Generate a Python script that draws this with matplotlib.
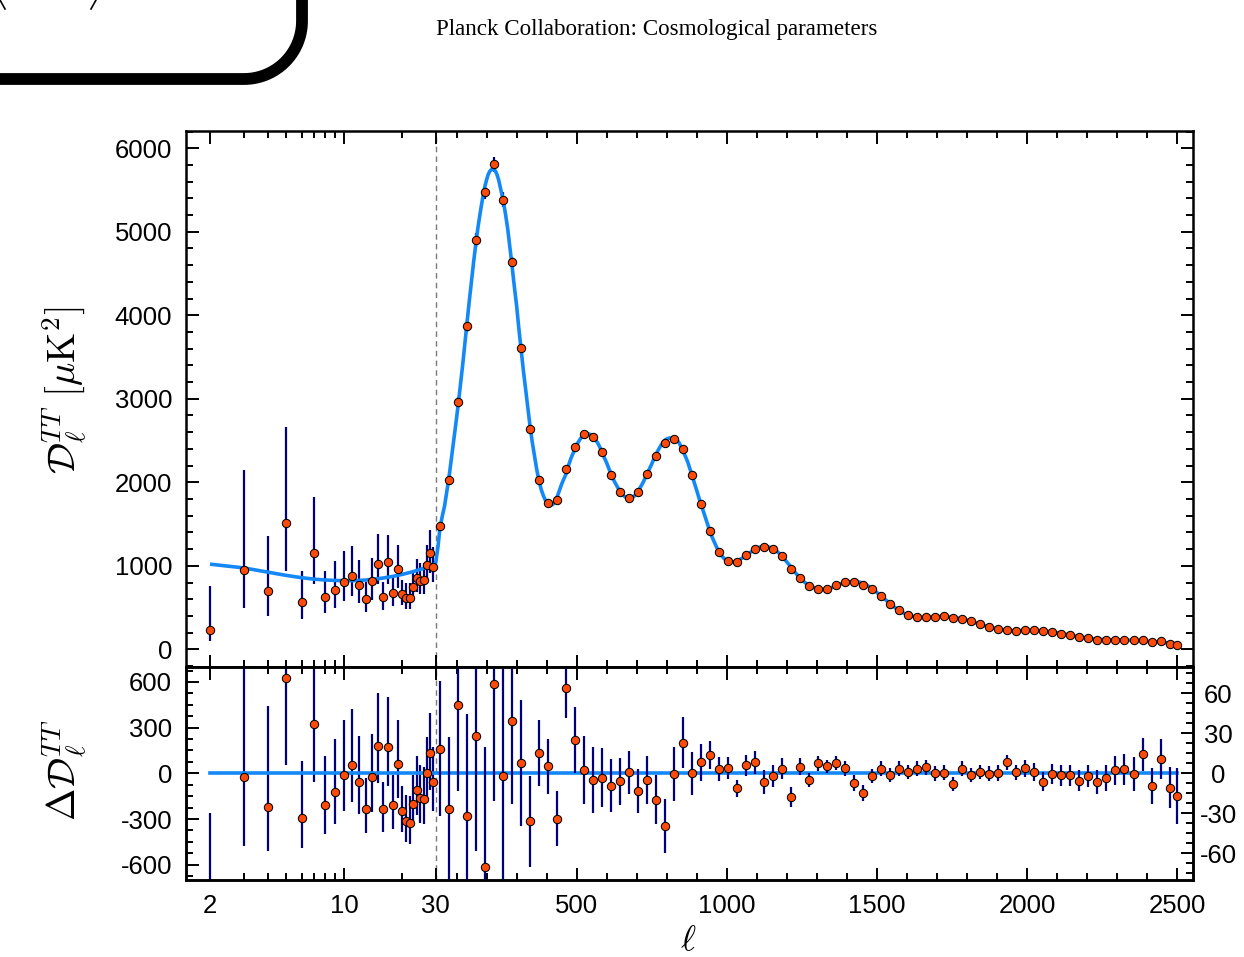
import numpy as np
import matplotlib
matplotlib.use("Agg")
import matplotlib.pyplot as plt
from matplotlib.ticker import FixedLocator, MultipleLocator, NullFormatter, FixedFormatter
from matplotlib.transforms import Affine2D
from matplotlib.lines import Line2D

plt.rcParams['mathtext.fontset'] = 'cm'
plt.rcParams['font.family'] = ['Liberation Sans', 'DejaVu Sans']

# ---------------- data ----------------
# low-ell (unbinned) points
ell_low = [2, 3, 4, 5, 6, 7, 8, 9, 10, 11, 12, 13, 14, 15, 16, 17, 18, 19, 20,
           21, 22, 23, 24, 25, 26, 27, 28, 29]
D_low = [234, 945, 699, 1508, 563, 1159, 621, 707, 810, 875, 768, 604, 814, 1027,
         625, 1040, 678, 958, 666, 617, 617, 752, 851, 822, 830, 1007, 1159, 986]
err_lo_low = [131, 452, 294, 572, 200, 380, 190, 215, 236, 242, 210, 158, 225, 240,
              150, 255, 160, 220, 140, 133, 140, 150, 165, 165, 165, 195, 240, 185]
err_hi_low = [526, 1205, 660, 1150, 375, 662, 320, 345, 364, 368, 305, 200, 285, 350,
              180, 330, 195, 290, 160, 175, 175, 185, 225, 215, 205, 240, 268, 234]
res_low = [-785, -26, -218, 628, -292, 323, -207, -120, -13, 52, -59, -231, -26, 179,
           -235, 170, -205, 61, -244, -316, -325, -198, -109, -161, -166, 0, 131, -59]

# high-ell binned points (bin width 30)
ell_high = [44.5, 74.5, 104.5, 134.5, 164.5, 194.5, 224.5, 254.5, 284.5, 314.5,
            344.5, 374.5, 404.5, 434.5, 464.5, 494.5, 524.5, 554.5, 584.5, 614.5,
            644.5, 674.5, 704.5, 734.5, 764.5, 794.5, 824.5, 854.5, 884.5, 914.5,
            944.5, 974.5, 1004.5, 1034.5, 1064.5, 1094.5, 1124.5, 1154.5, 1184.5, 1214.5,
            1244.5, 1274.5, 1304.5, 1334.5, 1364.5, 1394.5, 1424.5, 1454.5, 1484.5, 1514.5,
            1544.5, 1574.5, 1604.5, 1634.5, 1664.5, 1694.5, 1724.5, 1754.5, 1784.5, 1814.5,
            1844.5, 1874.5, 1904.5, 1934.5, 1964.5, 1994.5, 2024.5, 2054.5, 2084.5, 2114.5,
            2144.5, 2174.5, 2204.5, 2234.5, 2264.5, 2294.5, 2324.5, 2354.5, 2384.5, 2414.5,
            2444.5, 2474.5, 2499]
D_high = [1477, 2030, 2958, 3875, 4898, 5477, 5808, 5385, 4635, 3608,
          2638, 2030, 1752, 1788, 2163, 2423, 2575, 2547, 2359, 2091,
          1884, 1812, 1884, 2096, 2315, 2467, 2522, 2395, 2084, 1740,
          1417, 1169, 1057, 1045, 1129, 1205, 1229, 1201, 1117, 966,
          858, 758, 726, 726, 770, 802, 806, 776, 722, 638,
          543, 467, 411, 387, 387, 391, 395, 375, 367, 335,
          299, 267, 243, 235, 223, 231, 227, 216, 207, 187,
          168, 144, 132, 115, 111, 115, 111, 108, 115, 84,
          96, 63, 51]
err_high = [50.5, 54.4, 64.8, 76.5, 86.4, 90.2, 87.2, 90.0, 62.3, 47.0,
            34.0, 24.6, 20.8, 20.4, 22.9, 24.6, 25.5, 24.8, 22.4, 19.9,
            17.5, 16.4, 16.5, 18.0, 18.3, 20.3, 20.2, 18.9, 16.1, 13.7,
            10.6, 9.0, 8.3, 6.5, 8.0, 8.7, 9.0, 8.3, 8.0, 7.5,
            6.6, 5.6, 5.6, 5.0, 5.4, 5.4, 6.2, 6.2, 5.4, 5.4,
            5.4, 5.4, 5.4, 5.4, 5.4, 5.4, 5.4, 5.4, 5.4, 5.4,
            5.4, 5.9, 5.9, 5.9, 5.9, 6.2, 6.7, 6.9, 7.4, 7.7,
            7.9, 8.2, 8.6, 9.1, 9.6, 10.6, 11.6, 12.6, 12.4, 13.6,
            14.8, 15.3, 21.0]
res_high = [18.6, -27.1, 51.2, -32.3, 28.3, -70.3, 66.8, -1.7, 39.5, 7.7,
            -36.0, 15.2, 5.2, -34.0, 64.1, 24.8, 2.2, -5.2, -3.2, -9.2,
            -6.0, 0.7, -13.2, -5.0, -19.9, -39.2, -0.5, 23.1, 0.2, 8.2,
            13.9, 3.2, 4.0, -11.2, 6.0, 8.2, -6.7, -2.2, 3.5, -17.6,
            5.0, -5.0, 7.5, 5.2, 7.9, 3.7, -7.4, -14.6, -2.0, 3.5,
            -1.2, 3.5, 1.0, 3.5, 4.4, 0.0, 0.5, -8.2, 3.5, -1.2,
            1.0, -0.2, 0.0, 8.2, 0.7, 3.7, 1.0, -6.2, -0.7, -1.5,
            -1.5, -5.4, -2.0, -6.4, -3.7, 2.2, 3.2, -0.5, 14.3, -9.4,
            10.6, -10.9, -17.3]

# best-fit model curve
ell_model = [2, 3, 4, 5, 6, 7, 8, 9, 10, 11, 12, 13, 14, 15, 16, 17, 18, 19, 20,
             21, 22, 23, 24, 25, 26, 27, 28, 29, 30,
             38, 44.5, 52, 60, 67, 74.5, 82, 90, 97, 104.5, 112, 120, 127, 134.5, 142, 150,
             157, 164.5, 172, 180, 187, 194.5, 200, 205, 210, 215, 220, 225, 230, 235,
             240, 247, 254.5, 262, 270, 277, 284.5, 292, 300, 307, 314.5, 322, 330, 337,
             344.5, 352, 360, 367, 374.5, 382, 390, 397, 404.5, 412, 420, 427, 434.5,
             442, 450, 457, 464.5, 472, 480, 487, 494.5, 502, 510, 517, 524.5, 532, 540,
             547, 554.5, 562, 570, 577, 584.5, 592, 600, 607, 614.5, 622, 630, 637,
             644.5, 652, 660, 667, 674.5, 682, 690, 697, 704.5, 712, 720, 727, 734.5,
             742, 750, 757, 764.5, 772, 780, 787, 794.5, 802, 810, 817, 824.5, 832, 840,
             847, 854.5, 862, 870, 877, 884.5, 892, 900, 907, 914.5, 922, 930, 937,
             944.5, 952, 960, 967, 974.5, 982, 990, 997, 1004.5, 1020, 1034.5, 1050,
             1064.5, 1080, 1094.5, 1110, 1124.5, 1140, 1154.5, 1170, 1184.5, 1200, 1214.5,
             1230, 1244.5, 1260, 1274.5, 1290, 1304.5, 1320, 1334.5, 1350, 1364.5, 1380,
             1394.5, 1410, 1424.5, 1440, 1454.5, 1470, 1484.5, 1500, 1514.5, 1530, 1544.5,
             1560, 1574.5, 1590, 1604.5, 1620, 1634.5, 1664.5, 1694.5, 1724.5, 1754.5,
             1784.5, 1814.5, 1844.5, 1874.5, 1904.5, 1934.5, 1964.5, 1994.5, 2024.5,
             2054.5, 2084.5, 2114.5, 2144.5, 2174.5, 2204.5, 2234.5, 2264.5, 2294.5,
             2324.5, 2354.5, 2384.5, 2414.5, 2444.5, 2474.5, 2499, 2508]
D_model = [1020, 975, 925, 885, 858, 840, 830, 825, 822, 822, 825, 830, 837, 845, 854,
           864, 874, 885, 896, 908, 920, 932, 945, 958, 971, 985, 999, 1013, 1028,
           1230, 1458, 1590, 1720, 1880, 2057, 2265, 2480, 2690, 2907, 3150, 3400, 3650,
           3907, 4165, 4420, 4650, 4870, 5075, 5260, 5410, 5547, 5625, 5685, 5722, 5743,
           5750, 5745, 5722, 5680, 5620, 5510, 5387, 5230, 5040, 4830, 4596, 4350, 4110,
           3850, 3600, 3350, 3110, 2890, 2674, 2480, 2300, 2150, 2015, 1910, 1830, 1775,
           1747, 1730, 1733, 1765, 1822, 1900, 1980, 2040, 2099, 2195, 2280, 2340, 2398,
           2460, 2510, 2545, 2573, 2582, 2580, 2570, 2552, 2515, 2470, 2420, 2362, 2295,
           2230, 2165, 2100, 2035, 1980, 1935, 1890, 1855, 1830, 1815, 1811, 1815, 1830,
           1860, 1897, 1940, 1990, 2045, 2101, 2160, 2220, 2280, 2335, 2390, 2440, 2475,
           2506, 2523, 2530, 2530, 2522, 2505, 2480, 2430, 2372, 2310, 2240, 2162, 2084,
           1990, 1900, 1815, 1732, 1645, 1560, 1480, 1403, 1335, 1270, 1215, 1166, 1125,
           1090, 1068, 1053, 1045, 1056, 1090, 1123, 1165, 1197, 1225, 1236, 1225, 1203,
           1165, 1113, 1045, 984, 910, 853, 800, 763, 740, 718, 718, 721, 740, 762, 785,
           798, 808, 813, 806, 791, 760, 724, 680, 634, 590, 544, 500, 463, 432, 410, 395,
           384, 383, 391, 394, 383, 363, 336, 298, 267, 243, 227, 222, 227, 226, 222, 208,
           189, 170, 149, 134, 121, 115, 113, 108, 109, 101, 93, 85, 74, 68, 65]

xticks_major = [2, 10, 30, 500, 1000, 1500, 2000, 2500]
xticks_minor = [3, 4, 5, 6, 7, 8, 9, 20] + [v for v in range(100, 2500, 100) if v % 500 != 0]
yticks_res_left = [-600, -300, 0, 300, 600]
yticks_res_right = [-60, -30, 0, 30, 60]

# ---------------- scale: log below 30, linear above ----------------
def fwd(l):
    l = np.asarray(l, dtype=float)
    with np.errstate(divide='ignore', invalid='ignore'):
        lg = 191.7 * np.log10(np.maximum(l, 1e-9) / 30.0)
    return np.where(l < 30, lg, 0.3 * (l - 30))

def inv(u):
    u = np.asarray(u, dtype=float)
    with np.errstate(over='ignore', invalid='ignore'):
        lg = 30 * 10 ** (np.minimum(u, 0) / 191.7)
    return np.where(u < 0, lg, u / 0.3 + 30)

W, H = 1244, 957
fig = plt.figure(figsize=(W / 100, H / 100), dpi=100)

def px_axes(x0, y0, x1, y1):
    return [x0 / W, 1 - y1 / H, (x1 - x0) / W, (y1 - y0) / H]

ax1 = fig.add_axes(px_axes(186, 130.7, 1192.5, 666.7))
ax2 = fig.add_axes(px_axes(186, 666.7, 1192.5, 880), sharex=ax1)
ax1.set_xscale('function', functions=(fwd, inv))
ax1.set_xlim(1.5, 2551)
ax2r = ax2.twinx()

blue = '#1488F7'
navy = '#00007F'
orange = '#FF4A0A'

# top panel
ax1.plot(ell_model, D_model, color=blue, lw=2.6, zorder=3, solid_capstyle='butt')
ax1.errorbar(ell_low, D_low, yerr=[err_lo_low, err_hi_low], fmt='none', ecolor=navy,
             elinewidth=1.6, zorder=2)
ax1.errorbar(ell_high, D_high, yerr=err_high, fmt='none', ecolor=navy,
             elinewidth=1.6, zorder=2)
mk = dict(ls='none', marker='o', ms=6.0, mfc=orange, mec='black', mew=0.75, zorder=4)
ax1.plot(ell_low, D_low, **mk)
ax1.plot(ell_high, D_high, **mk)
ax1.axvline(30, color='#7a7a7a', lw=1.0, ls=(0, (4, 3)), zorder=1)
ax1.set_ylim(-208, 6210)

# bottom panel
ax2.plot([2, 2500], [0, 0], color=blue, lw=2.6, zorder=3)
ax2.errorbar(ell_low, res_low, yerr=[err_lo_low, err_hi_low], fmt='none', ecolor=navy,
             elinewidth=1.6, zorder=2)
ax2.plot(ell_low, res_low, **mk)
ax2.axvline(30, color='#7a7a7a', lw=1.0, ls=(0, (4, 3)), zorder=1)
ax2.set_ylim(-700, 700)
ax2r.errorbar(ell_high, res_high, yerr=err_high, fmt='none', ecolor=navy,
              elinewidth=1.6, zorder=2)
ax2r.plot(ell_high, res_high, **mk)
ax2r.set_ylim(-80, 80)

# ticks
for ax in (ax1, ax2):
    ax.xaxis.set_major_locator(FixedLocator(xticks_major))
    ax.xaxis.set_minor_locator(FixedLocator(xticks_minor))
    ax.xaxis.set_minor_formatter(NullFormatter())
ax2.xaxis.set_major_formatter(FixedFormatter([str(v) for v in xticks_major]))

ax1.yaxis.set_major_locator(MultipleLocator(1000))
ax1.yaxis.set_minor_locator(MultipleLocator(200))
ax2.yaxis.set_major_locator(FixedLocator(yticks_res_left))
ax2.yaxis.set_minor_locator(MultipleLocator(75))
ax2r.yaxis.set_major_locator(FixedLocator(yticks_res_right))
ax2r.yaxis.set_minor_locator(MultipleLocator(7.5))

tk = dict(direction='in', width=1.4, labelsize=18.5)
ax1.tick_params(axis='both', which='both', top=True, bottom=True, left=True, right=True,
                labelbottom=False, **tk)
ax2.tick_params(axis='x', which='both', top=True, bottom=True, pad=10, **tk)
ax2.tick_params(axis='y', which='both', left=True, right=False, pad=10, **tk)
ax1.tick_params(axis='y', pad=10)
ax2r.tick_params(axis='y', which='both', left=False, right=True, pad=18.5, **tk)
for ax in (ax1, ax2, ax2r):
    ax.tick_params(which='major', length=9)
    ax.tick_params(which='minor', length=5)
    for s in ax.spines.values():
        s.set_linewidth(1.8)

ax2.yaxis.set_major_formatter(FixedFormatter([str(v) for v in yticks_res_left]))
ax2r.yaxis.set_major_formatter(FixedFormatter([str(v) for v in yticks_res_right]))
for lab in ax2r.get_yticklabels():
    lab.set_horizontalalignment('center')

# labels
fig.text(65 / W, 1 - 390 / H, r'$\mathcal{D}_\ell^{TT}\ [\mu\mathrm{K}^2]$', rotation=90,
         ha='center', va='center', fontsize=28)
fig.text(65 / W, 1 - 770 / H, r'$\Delta\mathcal{D}_\ell^{TT}$', rotation=90,
         ha='center', va='center', fontsize=28)
fig.text(688 / W, 1 - 941 / H, r'$\ell$', ha='center', va='center', fontsize=26)

fig.text(657 / W, 1 - 30 / H, 'Planck Collaboration: Cosmological parameters',
         ha='center', va='center', fontsize=16.6, family='Liberation Serif')

# decorative rounded frame at top-left (page artefact)
pix = Affine2D().scale(1, -1).translate(0, H).scale(1 / W, 1 / H) + fig.transFigure
R = 58
t = np.linspace(np.pi / 2, 0, 30)
xs = np.concatenate([[-10], 302 - R + R * np.cos(t), [302]])
ys = np.concatenate([[79], 79 - R + R * np.sin(t), [-10]])
fig.add_artist(Line2D(xs, ys, color='black', lw=8.5, transform=pix))
fig.add_artist(Line2D([0, 5], [0, 9], color='black', lw=1.2, transform=pix))
fig.add_artist(Line2D([96, 91], [0, 9], color='black', lw=1.2, transform=pix))

fig.savefig('out.png', dpi=100)
